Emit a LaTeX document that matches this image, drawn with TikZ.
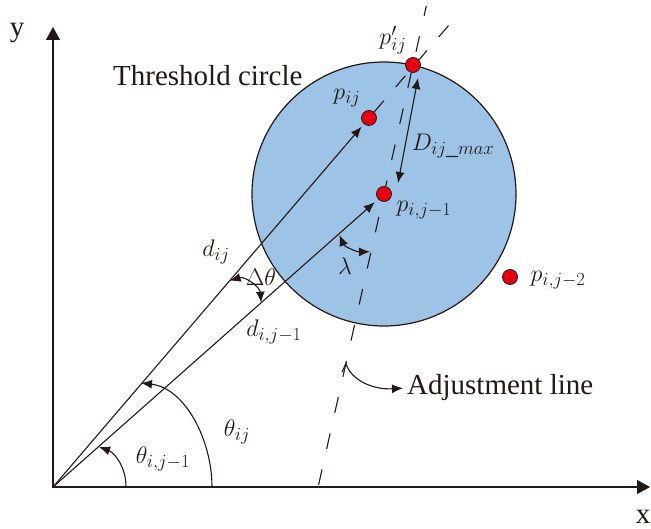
\documentclass[tikz,border=0pt]{standalone}
\usepackage{fix-cm}
\usepackage{fontspec}
\setmainfont{Liberation Serif}
\usetikzlibrary{arrows.meta,calc}
\DeclareMathSizes{24}{24}{18.5}{14}
\definecolor{ink}{HTML}{231815}
\definecolor{cfill}{HTML}{9DC3E6}
\definecolor{dotred}{HTML}{E60012}
\pgfdeclarelayer{bg}
\pgfdeclarelayer{mid}
\pgfsetlayers{bg,mid,main}
\begin{document}
\begin{tikzpicture}[x=1pt,y=-1pt,
  ln/.style={draw=ink,line width=1.1pt},
  axisln/.style={draw=ink,line width=1.3pt,{Triangle[length=13pt,width=14pt]}-{Triangle[length=13pt,width=14pt]}},
  arr/.style={ln,-{Latex[length=11pt,width=9pt]}},
  darr/.style={ln,{Latex[length=11pt,width=9pt]}-{Latex[length=11pt,width=9pt]}},
  adjdash/.style={ln,dash pattern=on 16pt off 21pt,dash phase=6pt},
  extdash/.style={ln,dash pattern=on 15pt off 18pt},
  dot/.style={circle,draw=ink,line width=0.8pt,fill=dotred,minimum size=15pt,inner sep=0pt},
  txt/.style={font=\fontsize{29}{33}\selectfont,text=ink,inner sep=0pt},
  mth/.style={font=\fontsize{24}{28}\selectfont,text=ink,inner sep=0pt}]
\useasboundingbox (0,0) rectangle (651,529);
% coordinates
\coordinate (O) at (53,487);
\coordinate (xe) at (650,487);
\coordinate (ye) at (53,27);
\coordinate (adjT) at (426.3,6);
\coordinate (adjB) at (318.1,487);
\coordinate (ext) at (449,25);
\coordinate (Dhi) at (418,78);
\coordinate (Dlo) at (398,183);
\coordinate (A1) at (229.6,280.7);
\coordinate (A2) at (261.1,302.7);
\coordinate (L1) at (339.5,235);
\coordinate (L2) at (370,251.7);
\coordinate (T1s) at (126,487);
\coordinate (T1e) at (99,447);
\coordinate (T2s) at (212,487);
\coordinate (T2e) at (141,383);
\coordinate (h0) at (342,372);
\coordinate (h1) at (346,363.5);
% threshold circle
\begin{pgfonlayer}{bg}
\node[circle,draw=ink,line width=1.2pt,fill=cfill,minimum size=264pt,inner sep=0pt] (thr) at (384,194) {};
\end{pgfonlayer}
% points
\node[dot] (C) at (384,194) {};
\node[dot] (P) at (369,118) {};
\node[dot] (Pp) at (413,65) {};
\node[dot] (P2) at (510,277) {};
% labels
\node[txt] (ylbl) at (17,33) {y};
\node[txt] (xlbl) at (643,517) {x};
\node[txt,anchor=west] (thrlbl) at (113,76) {Threshold circle};
\node[txt,anchor=west] (adjlbl) at (407,388) {Adjustment line};
\node[mth] (lPp) at (393,40) {$p'_{ij}$};
\node[mth] (lP) at (347,98) {$p_{ij}$};
\node[mth] (lC) at (424,210) {$p_{i,j-1}$};
\node[mth] (lP2) at (558,280) {$p_{i,j-2}$};
\node[mth] (lD) at (453,146) {$D_{ij\_max}$};
\node[mth] (llam) at (345,266) {$\lambda$};
\node[mth] (ldt) at (261,277) {$\Delta\theta$};
\node[mth] (ldij) at (216,252) {$d_{ij}$};
\node[mth] (ldij1) at (274,332) {$d_{i,j-1}$};
\node[mth] (lth) at (237,432) {$\theta_{ij}$};
\node[mth] (lth1) at (163,459) {$\theta_{i,j-1}$};
% lines
\begin{pgfonlayer}{mid}
\draw[axisln] (ye) -- (O) -- (xe);
\draw[arr,shorten >=3.5pt] (O) -- (P);
\draw[arr,shorten >=4.5pt] (O) -- (C);
\draw[extdash] (P) -- (ext);
\draw[adjdash] (adjT) -- (adjB);
\draw[darr] (Dlo) -- (Dhi);
\draw[darr] (A1) .. controls (245,276) and (260,287) .. (A2);
\draw[darr] (L1) .. controls (344,246) and (356,252) .. (L2);
\draw[arr] (T1s) .. controls (126,465) and (113,452) .. (T1e);
\draw[arr] (T2s) .. controls (212,440) and (185,388) .. (T2e);
\draw[arr,shorten >=4pt] (h0) -- (h1) .. controls (350,378) and (370,390) .. (adjlbl.west);
\end{pgfonlayer}
\end{tikzpicture}
\end{document}
